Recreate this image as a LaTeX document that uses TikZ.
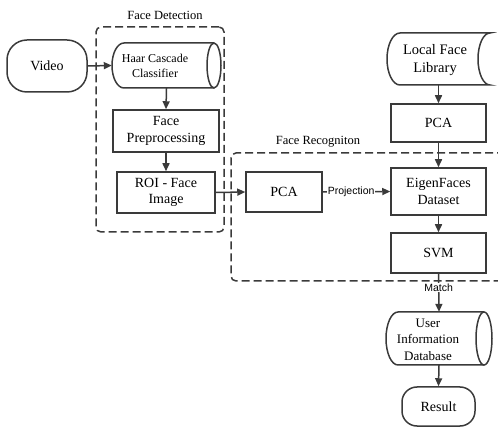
\documentclass[tikz,border=0pt]{standalone}
\usepackage{fontspec}
\setmainfont{Liberation Serif}
\setsansfont{Liberation Sans}
\usetikzlibrary{arrows.meta}
\definecolor{ln}{HTML}{3A3A3A}
\begin{document}
\begin{tikzpicture}[x=1pt,y=-1pt,
  every node/.style={inner sep=0pt, text=black},
  blk/.style={draw=ln, line width=1.5pt, align=center, font=\fontsize{14}{16.5}\selectfont},
  hold/.style={inner sep=0pt},
  shp/.style={draw=ln, line width=1.5pt},
  txt/.style={align=center, font=\fontsize{13.5}{16.5}\selectfont},
  arr/.style={draw=ln, line width=1.5pt, -{Triangle[length=8pt,width=7pt]}},
  grp/.style={draw=ln, line width=1.5pt, dash pattern=on 8pt off 4pt, rounded corners=5pt},
  lbl/.style={font=\fontsize{12.5}{15}\selectfont},
  tag/.style={font=\sffamily\fontsize{10.5}{12}\selectfont, fill=white, inner sep=1pt}
]
\useasboundingbox (0,0) rectangle (498,427);

% groups
\node[grp, minimum width=128pt, minimum height=205pt] (fd) at (160,129.5) {};
\node[lbl] (fdl) at (165,15) {Face Detection};
\draw[grp] (505,153) -- (231,153) -- (231,281) -- (505,281);
\node[lbl] (frl) at (318,142) {Face Recogniton};

% nodes
\node[blk, rounded corners=20pt, minimum width=80pt, minimum height=52pt] (video) at (47,66) {Video};

\node[hold, minimum width=109pt, minimum height=45pt] (haar) at (166.5,65.5) {};
\draw[shp] (214,43) -- (124,43) .. controls (117.37,43) and (112,53.07) .. (112,65.5)
  .. controls (112,77.93) and (117.37,88) .. (124,88) -- (214,88);
\draw[shp] (214,65.5) ellipse [x radius=7pt, y radius=22.5pt];
\node[txt, font=\fontsize{12}{15}\selectfont] (haart) at (155,66) {Haar Cascade\\Classifier};

\node[blk, minimum width=106pt, minimum height=42pt] (prep) at (166,131) {Face\\Preprocessing};
\node[blk, minimum width=98pt, minimum height=41pt] (roi) at (166,192.5) {ROI - Face\\Image};
\node[blk, minimum width=76pt, minimum height=40pt] (pca1) at (284,192) {PCA};

\node[hold, minimum width=103pt, minimum height=52pt] (lib) at (438.5,59) {};
\draw[shp] (490,33) -- (400,33) .. controls (392.82,33) and (387,44.64) .. (387,59)
  .. controls (387,73.36) and (392.82,85) .. (400,85) -- (490,85)
  .. controls (483.37,85) and (478,73.36) .. (478,59)
  .. controls (478,44.64) and (483.37,33) .. cycle;
\node[txt, font=\fontsize{14.5}{18}\selectfont] (libt) at (435,60.5) {Local Face\\Library};

\node[blk, minimum width=95pt, minimum height=38pt] (pca2) at (438.5,123) {PCA};
\node[blk, minimum width=95pt, minimum height=47pt] (eigen) at (438.5,191.5) {EigenFaces\\Dataset};
\node[blk, minimum width=95pt, minimum height=40pt] (svm) at (438.5,253) {SVM};

\node[hold, minimum width=106pt, minimum height=53pt] (udb) at (439,338.5) {};
\draw[shp] (484,312) -- (398,312) .. controls (391.37,312) and (386,323.86) .. (386,338.5)
  .. controls (386,353.14) and (391.37,365) .. (398,365) -- (484,365);
\draw[shp] (484,338.5) ellipse [x radius=8pt, y radius=26.5pt];
\node[txt, font=\fontsize{13}{16.5}\selectfont] (udbt) at (428,339.5) {User\\Information\\Database};

\node[blk, rounded corners=15pt, minimum width=73pt, minimum height=39pt] (result) at (438.5,406.5) {Result};

% connectors
\draw[arr] (video.east) -- (haar.west);
\draw[arr] (haar.south) -- (prep.north);
\draw[arr] (prep.south) -- (roi.north);
\draw[arr] (roi.east) -- (pca1.west);
\draw[arr] (pca1.east) -- node[tag, pos=0.42] {Projection} (eigen.west);
\draw[arr] (lib.south) -- (pca2.north);
\draw[arr] (pca2.south) -- (eigen.north);
\draw[arr] (eigen.south) -- (svm.north);
\draw[arr] (svm.south) -- node[tag, pos=0.36] {Match} (udb.north);
\draw[arr] (udb.south) -- (result.north);
\end{tikzpicture}
\end{document}
